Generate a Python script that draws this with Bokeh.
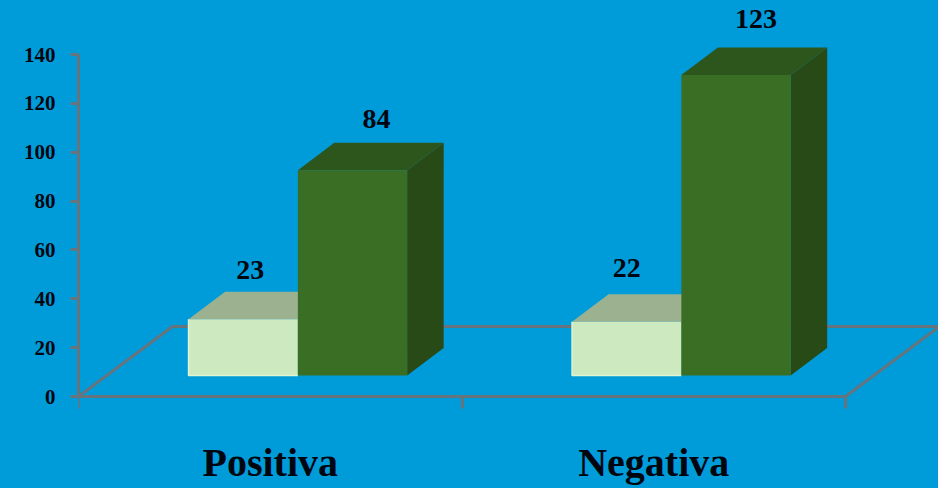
from bokeh.core.properties import value
from bokeh.embed import file_html
from bokeh.models import FixedTicker, LinearAxis, Range1d
from bokeh.plotting import figure
from bokeh.resources import INLINE

categories = ["Positiva", "Negativa"]
light_values = [23, 22]
dark_values = [84, 123]
y_ticks = [0, 20, 40, 60, 80, 100, 120, 140]

BG = "#009CDA"
AXIS = "#66747E"
INK = "#00060F"
SERIF = "Liberation Serif"
LINE_W = 3

# Drawing scale of the pseudo-3D scene, in pixels per data unit
PX_X = 383.5
PX_Y = 342 / 140

# Extrusion of the bars and of the floor, in data units
DEPTH_X = 36.5 / PX_X
DEPTH_Y = 27.5 / PX_Y
FLOOR_X = 94 / PX_X
FLOOR_Y = 70 / PX_Y
BAR_BASE = 21 / PX_Y
BAR_START = 0.287
BAR_W = 0.285

p = figure(
    width=938, height=488,
    x_range=Range1d(0, 860 / PX_X),
    y_range=Range1d(-92 / PX_Y, 396 / PX_Y),
    output_backend="svg", toolbar_location=None,
    x_axis_type=None, y_axis_type=None,
    min_border_left=78, min_border_right=0, min_border_top=0, min_border_bottom=0,
    background_fill_color=None, border_fill_color=None, outline_line_color=None,
    styles={"background-color": BG},
)
p.grid.visible = False

# Floor outline, behind the bars
p.line([0, FLOOR_X, 2 + FLOOR_X, 2], [0, FLOOR_Y, FLOOR_Y, 0], line_color=AXIS, line_width=LINE_W)


def draw_bar(x0, height, front, side, top):
    x1 = x0 + BAR_W
    y0 = BAR_BASE
    y1 = BAR_BASE + height
    p.patch([x1, x1 + DEPTH_X, x1 + DEPTH_X, x1],
            [y0, y0 + DEPTH_Y, y1 + DEPTH_Y, y1], fill_color=side, line_color=None)
    p.patch([x0, x0 + DEPTH_X, x1 + DEPTH_X, x1],
            [y1, y1 + DEPTH_Y, y1 + DEPTH_Y, y1], fill_color=top, line_color=None)
    p.quad(left=x0, right=x1, bottom=y0, top=y1, fill_color=front, line_color=None)


for i in range(len(categories)):
    light_x = i + BAR_START
    dark_x = light_x + BAR_W
    draw_bar(light_x, light_values[i], "#CDE9BF", "#9BB190", "#9BB190")
    p.line([light_x, light_x, dark_x], [BAR_BASE + light_values[i], BAR_BASE, BAR_BASE],
           line_color="#E0F6D2", line_width=1.5)
    draw_bar(dark_x, dark_values[i], "#3A6E25", "#284A17", "#2D561C")

# Value labels sit above each bar's front face
light_shift = [(7, -49), (0, -54)]
dark_shift = [(24, -51), (20, -56)]
for i in range(len(categories)):
    light_x = i + BAR_START
    dark_x = light_x + BAR_W
    p.text([light_x + BAR_W / 2], [BAR_BASE + light_values[i]], text=[str(light_values[i])],
           x_offset=light_shift[i][0], y_offset=light_shift[i][1],
           text_font=value(SERIF), text_font_style="bold", text_font_size="28px",
           text_color=INK, text_align="center", text_baseline="middle")
    p.text([dark_x + BAR_W / 2], [BAR_BASE + dark_values[i]], text=[str(dark_values[i])],
           x_offset=dark_shift[i][0], y_offset=dark_shift[i][1],
           text_font=value(SERIF), text_font_style="bold", text_font_size="28px",
           text_color=INK, text_align="center", text_baseline="middle")

# Value axis
y_axis = LinearAxis(
    ticker=FixedTicker(ticks=y_ticks), bounds=(0, 140),
    axis_line_color=AXIS, axis_line_width=LINE_W,
    major_tick_line_color=AXIS, major_tick_line_width=LINE_W,
    major_tick_in=0, major_tick_out=8, minor_tick_line_color=None,
    major_label_standoff=15,
    major_label_text_font=SERIF, major_label_text_font_size="21px",
    major_label_text_font_style="bold", major_label_text_color=INK,
)
p.add_layout(y_axis, "left")

# Category axis: minor ticks bound each group, the names sit on the major ticks
x_axis = LinearAxis(
    ticker=FixedTicker(ticks=[0.5, 1.5], minor_ticks=[0, 1, 2]), bounds=(0, 2), fixed_location=0,
    major_label_overrides={0.5: categories[0], 1.5: categories[1]},
    axis_line_color=AXIS, axis_line_width=LINE_W,
    major_tick_line_color=None, major_tick_in=0, major_tick_out=0,
    minor_tick_line_color=AXIS, minor_tick_line_width=LINE_W,
    minor_tick_in=0, minor_tick_out=12,
    major_label_standoff=31,
    major_label_text_font=SERIF, major_label_text_font_size="40px",
    major_label_text_font_style="bold", major_label_text_color=INK,
)
p.add_layout(x_axis, "below")

open("out.html", "w").write(file_html(p, INLINE))
